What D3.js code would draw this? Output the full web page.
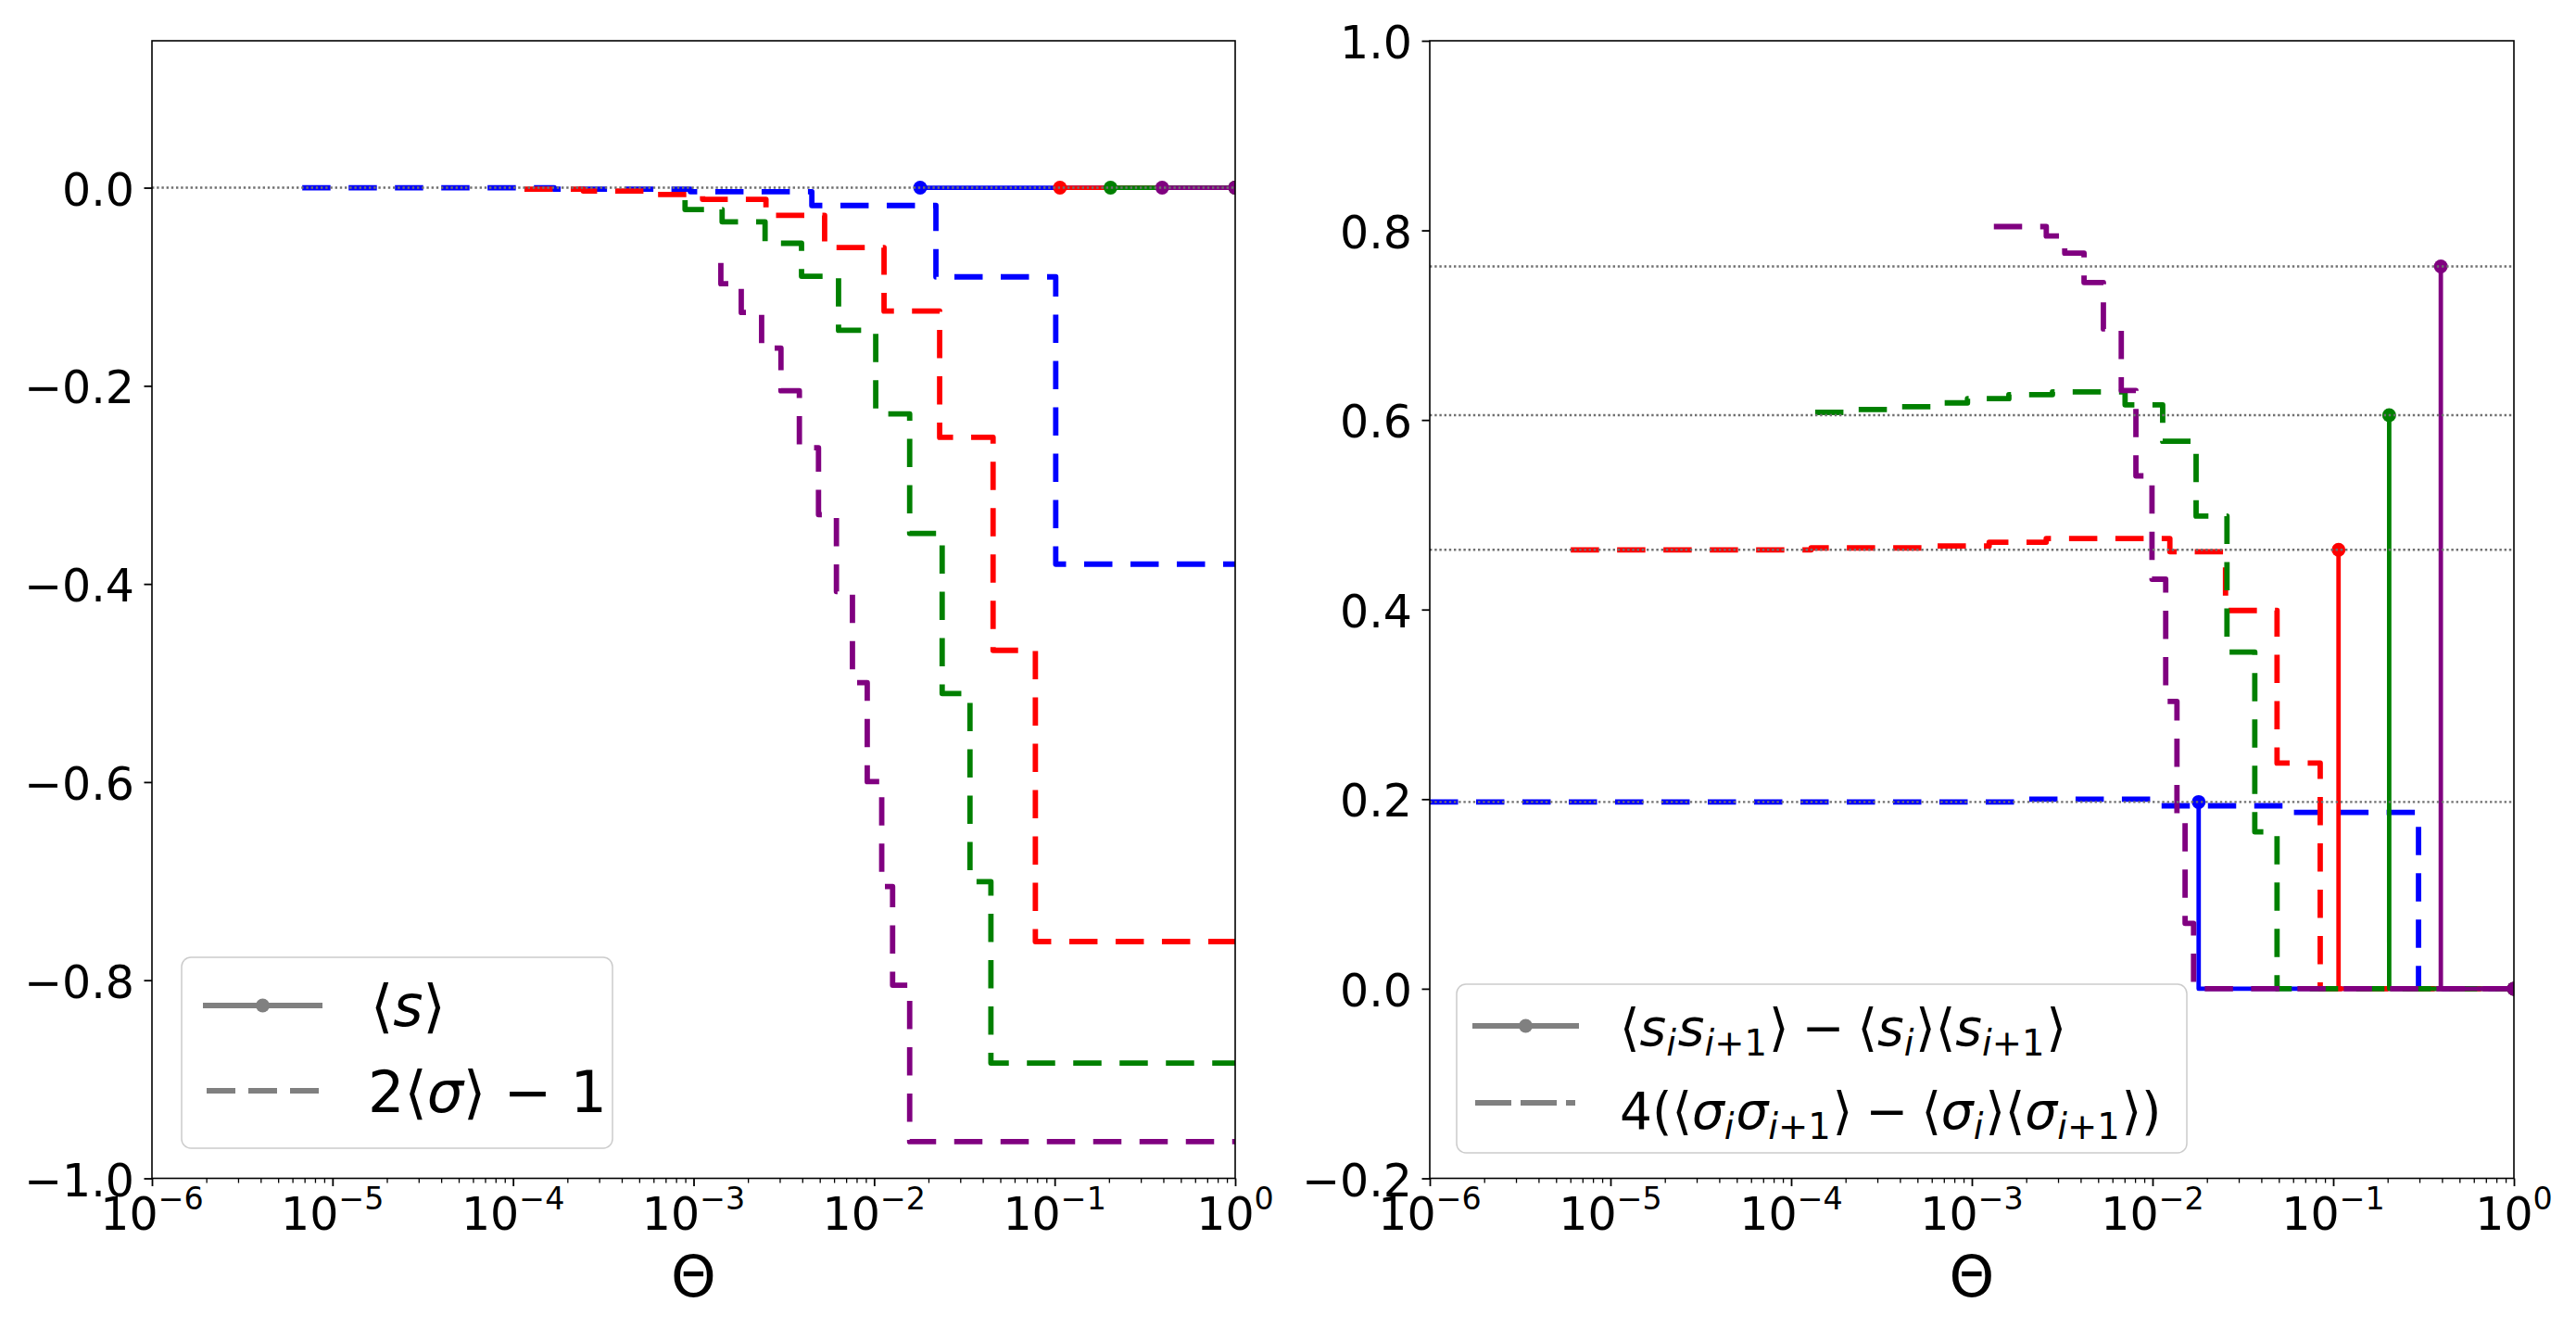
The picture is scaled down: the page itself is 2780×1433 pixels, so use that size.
<!DOCTYPE html>
<html><head><meta charset="utf-8">
<script src="https://cdn.jsdelivr.net/npm/d3@7"></script>
<style>
body{margin:0;background:#fff}
text{font-family:"DejaVu Sans";fill:#000}
</style></head>
<body><svg id="c" width="2780" height="1433"></svg>
<script>
// ---------- data ----------
const seriesColors = ["#0000ff", "#ff0000", "#008000", "#800080"];
const xTickExponents = [-6, -5, -4, -3, -2, -1, 0];
const leftYTicks = [-1.0, -0.8, -0.6, -0.4, -0.2, 0.0];
const rightYTicks = [-0.2, 0.0, 0.2, 0.4, 0.6, 0.8, 1.0];

// threshold Θ where <s> becomes defined (solid lines) and the correlation value there
const thetaC = [0.018, 0.107, 0.204, 0.394];
const sMean = [0, 0, 0, 0];
const corrS = [0.197, 0.463, 0.605, 0.762];
const refLeft = [0.0];
const refRight = [0.762, 0.605, 0.463, 0.197];

// left panel: 2<σ>-1 (level starting at each Θ)
const sigBlueT = [6.8e-6, 1.69e-4, 9.6e-4, 4.52e-3, 0.0220, 0.1014, 1];
const sigBlueV = [0.0, -0.0015, -0.004, -0.018, -0.090, -0.380, -0.380];
const sigRedT = [1.156e-4, 2.45e-4, 5.66e-4, 1.122e-3, 2.518e-3, 5.32e-3, 0.01135, 0.02307, 0.0456, 0.0782, 1];
const sigRedV = [-0.0014, -0.0033, -0.0068, -0.0117, -0.028, -0.0605, -0.1246, -0.252, -0.467, -0.761, -0.761];
const sigGreenT = [8.97e-4, 8.97e-4, 1.439e-3, 2.489e-3, 3.963e-3, 6.353e-3, 0.01021, 0.01574, 0.02382, 0.03396, 0.04436, 1];
const sigGreenV = [-0.0126, -0.022, -0.0344, -0.0561, -0.0894, -0.144, -0.2284, -0.349, -0.5106, -0.7006, -0.8836, -0.8836];
const sigPurpleT = [1.416e-3, 1.416e-3, 1.837e-3, 2.382e-3, 3.048e-3, 3.855e-3, 4.920e-3, 6.184e-3, 7.586e-3, 9.162e-3, 0.01102, 0.01266, 0.01574, 1];
const sigPurpleV = [-0.076, -0.097, -0.126, -0.162, -0.205, -0.2625, -0.330, -0.4077, -0.4997, -0.5995, -0.7055, -0.805, -0.963, -0.963];

// right panel: 4(<σiσi+1> - <σi><σi+1>)
const corBlueT = [1e-6, 2.03e-3, 0.0106, 0.0525, 0.2965, 1];
const corBlueV = [0.197, 0.200, 0.193, 0.186, 0.0, 0.0];
const corRedT = [6.03e-6, 1.29e-4, 5.53e-4, 1.247e-3, 2.58e-3, 0.01247, 0.02535, 0.04887, 0.08472, 1];
const corRedV = [0.463, 0.465, 0.467, 0.471, 0.475, 0.461, 0.399, 0.238, 0.0, 0.0];
const corGreenT = [1.358e-4, 2.168e-4, 3.648e-4, 6.138e-4, 9.46e-4, 1.603e-3, 2.793e-3, 7.047e-3, 0.01138, 0.01742, 0.02582, 0.03681, 0.04887, 1];
const corGreenV = [0.608, 0.611, 0.614, 0.618, 0.6225, 0.6267, 0.6296, 0.616, 0.5775, 0.4986, 0.3552, 0.1655, 0.0, 0.0];
const corPurpleT = [1.324e-3, 2.582e-3, 3.266e-3, 4.178e-3, 5.346e-3, 6.714e-3, 8.091e-3, 9.931e-3, 0.01183, 0.01365, 0.01514, 0.01687, 1];
const corPurpleV = [0.804, 0.794, 0.776, 0.745, 0.696, 0.631, 0.541, 0.432, 0.303, 0.182, 0.069, 0.0, 0.0];

// ---------- drawing ----------
const svg = d3.select("#c");
const zip = (T, V) => T.map((t, i) => [t, V[i]]);

const panels = [
  {x0: 164, x1: 1333, y0: 44, y1: 1271.5, yDomain: [-1.0, 0.1483], yTicks: leftYTicks,
   dashed: [zip(sigBlueT, sigBlueV), zip(sigRedT, sigRedV), zip(sigGreenT, sigGreenV), zip(sigPurpleT, sigPurpleV)],
   solid: thetaC.map((t, i) => [[t, sMean[i]], [1, 0]]), refs: refLeft},
  {x0: 1543, x1: 2713, y0: 44, y1: 1271.5, yDomain: [-0.2, 1.0], yTicks: rightYTicks,
   dashed: [zip(corBlueT, corBlueV), zip(corRedT, corRedV), zip(corGreenT, corGreenV), zip(corPurpleT, corPurpleV)],
   solid: thetaC.map((t, i) => [[t, corrS[i]], [1, 0]]), refs: refRight}
];

function mathText(parent, x, y, size, parts, anchor) {
  const t = parent.append("text").attr("x", x).attr("y", y)
    .attr("font-size", size).attr("text-anchor", anchor || "start");
  let cur = 0;
  parts.forEach(p => {
    const target = p.sub ? 0.2 * size : p.sup ? -0.45 * size : 0;
    const ts = t.append("tspan").text(p.t).attr("dy", target - cur);
    cur = target;
    if (p.it) ts.attr("font-style", "italic");
    if (p.sub || p.sup) ts.attr("font-size", size * (p.scale || 0.7));
    if (p.dx) ts.attr("dx", p.dx);
  });
  return t;
}

panels.forEach((P, pi) => {
  const x = d3.scaleLog().domain([1e-6, 1]).range([P.x0, P.x1]);
  const y = d3.scaleLinear().domain(P.yDomain).range([P.y1, P.y0]);
  const g = svg.append("g");
  const clipId = "clip" + pi;
  svg.append("clipPath").attr("id", clipId).append("rect")
    .attr("x", P.x0).attr("y", P.y0).attr("width", P.x1 - P.x0).attr("height", P.y1 - P.y0);
  const plot = g.append("g").attr("clip-path", `url(#${clipId})`);

  const stepAfter = d3.line().x(d => x(d[0])).y(d => y(d[1])).curve(d3.curveStepAfter);
  const stepBefore = d3.line().x(d => x(d[0])).y(d => y(d[1])).curve(d3.curveStepBefore);

  seriesColors.forEach((col, i) => {
    plot.append("path").attr("d", stepBefore(P.solid[i])).attr("fill", "none")
      .attr("stroke", col).attr("stroke-width", 4.8).attr("stroke-linejoin", "round");
    plot.append("path").attr("d", stepAfter(P.dashed[i])).attr("fill", "none")
      .attr("stroke", col).attr("stroke-width", 5.8).attr("stroke-dasharray", "30.5,19.5")
      .attr("stroke-linejoin", "round");
    plot.selectAll(null).data(P.solid[i]).enter().append("circle")
      .attr("cx", d => x(d[0])).attr("cy", d => y(d[1])).attr("r", 7.5).attr("fill", col);
  });

  // dotted reference lines on top
  plot.selectAll(null).data(P.refs).enter().append("line")
    .attr("x1", P.x0).attr("x2", P.x1).attr("y1", d => y(d)).attr("y2", d => y(d))
    .attr("stroke", "#707070").attr("stroke-width", 2.4).attr("stroke-dasharray", "2.4,2.8");

  // axes
  const majors = xTickExponents.map(e => Math.pow(10, e));
  const minors = [];
  for (let e = -6; e < 0; e++) for (let m = 2; m <= 9; m++) minors.push(m * Math.pow(10, e));
  const xa = g.append("g").attr("transform", `translate(0,${P.y1})`)
    .call(d3.axisBottom(x).tickValues(majors).tickSize(8.5).tickSizeOuter(0).tickFormat(""));
  xa.select(".domain").remove();
  xa.selectAll("line").attr("stroke-width", 1.8);
  const xm = g.append("g").attr("transform", `translate(0,${P.y1})`)
    .call(d3.axisBottom(x).tickValues(minors).tickSize(5).tickSizeOuter(0).tickFormat(""));
  xm.select(".domain").remove();
  xm.selectAll("line").attr("stroke-width", 1.3);

  xTickExponents.forEach(e => {
    mathText(g, x(Math.pow(10, e)), 1327, 49,
      [{t: "10"}, {t: e < 0 ? "\u2212" + (-e) : String(e), sup: true, scale: 0.68}], "middle");
  });

  const ya = g.append("g").attr("transform", `translate(${P.x0},0)`)
    .call(d3.axisLeft(y).tickValues(P.yTicks).tickSize(8.5).tickSizeOuter(0).tickPadding(10.5)
      .tickFormat(d3.format(".1f")));
  ya.select(".domain").remove();
  ya.selectAll("line").attr("stroke-width", 1.8);
  ya.selectAll("text").attr("font-size", 49).attr("font-family", "DejaVu Sans").attr("dy", "0.38em");
  ya.attr("font-size", null).attr("font-family", null);

  // frame
  g.append("rect").attr("x", P.x0).attr("y", P.y0).attr("width", P.x1 - P.x0).attr("height", P.y1 - P.y0)
    .attr("fill", "none").attr("stroke", "#000").attr("stroke-width", 1.6);

  g.append("text").attr("x", (P.x0 + P.x1) / 2).attr("y", 1399).attr("text-anchor", "middle")
    .attr("font-size", 62).text("\u0398");
});

// ---------- legends ----------
const legendGray = "#808080";
// left legend
const L = svg.append("g");
L.append("rect").attr("x", 196).attr("y", 1033).attr("width", 465).attr("height", 206).attr("rx", 10)
  .attr("fill", "#fff").attr("fill-opacity", 0.8).attr("stroke", "#cccccc").attr("stroke-width", 1.5);
L.append("line").attr("x1", 219).attr("x2", 348).attr("y1", 1085).attr("y2", 1085)
  .attr("stroke", legendGray).attr("stroke-width", 6);
L.append("circle").attr("cx", 283.5).attr("cy", 1085).attr("r", 7.5).attr("fill", legendGray);
L.append("line").attr("x1", 223).attr("x2", 344).attr("y1", 1177).attr("y2", 1177)
  .attr("stroke", legendGray).attr("stroke-width", 6).attr("stroke-dasharray", "31,14");
mathText(L, 400, 1107, 62, [{t: "\u27E8"}, {t: "s", it: true}, {t: "\u27E9"}]);
mathText(L, 397, 1200, 62, [{t: "2\u27E8"}, {t: "\u03C3", it: true}, {t: "\u27E9 \u2212 1"}]);

// right legend
const R = svg.append("g");
R.append("rect").attr("x", 1572).attr("y", 1062).attr("width", 788).attr("height", 182).attr("rx", 10)
  .attr("fill", "#fff").attr("fill-opacity", 0.8).attr("stroke", "#cccccc").attr("stroke-width", 1.5);
R.append("line").attr("x1", 1589).attr("x2", 1704).attr("y1", 1107).attr("y2", 1107)
  .attr("stroke", legendGray).attr("stroke-width", 6);
R.append("circle").attr("cx", 1646.5).attr("cy", 1107).attr("r", 7.5).attr("fill", legendGray);
R.append("line").attr("x1", 1592).attr("x2", 1700).attr("y1", 1190).attr("y2", 1190)
  .attr("stroke", legendGray).attr("stroke-width", 6).attr("stroke-dasharray", "39,10");
const fsR = 55;
mathText(R, 1748, 1128, fsR, [
  {t: "\u27E8"}, {t: "s", it: true}, {t: "i", it: true, sub: true}, {t: "s", it: true, dx: 2},
  {t: "i", it: true, sub: true}, {t: "+1", sub: true}, {t: "\u27E9", dx: 2}, {t: "\u2212", dx: 14},
  {t: "\u27E8", dx: 14},
  {t: "s", it: true}, {t: "i", it: true, sub: true}, {t: "\u27E9\u27E8", dx: 2}, {t: "s", it: true},
  {t: "i", it: true, sub: true}, {t: "+1", sub: true}, {t: "\u27E9", dx: 2}]);
mathText(R, 1748, 1218, fsR, [
  {t: "4(\u27E8"}, {t: "\u03C3", it: true}, {t: "i", it: true, sub: true}, {t: "\u03C3", it: true, dx: 2},
  {t: "i", it: true, sub: true}, {t: "+1", sub: true}, {t: "\u27E9", dx: 2}, {t: "\u2212", dx: 14},
  {t: "\u27E8", dx: 14},
  {t: "\u03C3", it: true}, {t: "i", it: true, sub: true}, {t: "\u27E9\u27E8", dx: 2}, {t: "\u03C3", it: true},
  {t: "i", it: true, sub: true}, {t: "+1", sub: true}, {t: "\u27E9)", dx: 2}]);
</script>
</body></html>
